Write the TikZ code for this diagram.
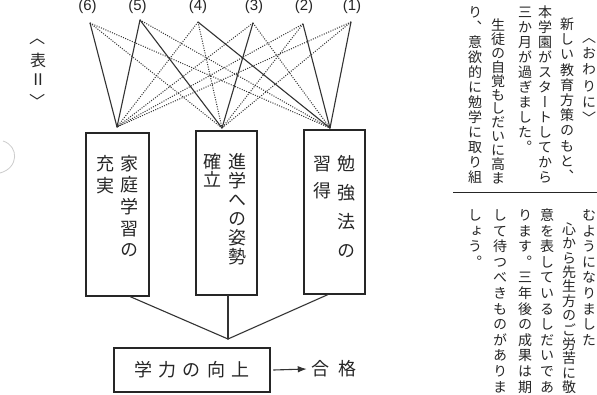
\documentclass[tikz,border=0pt]{standalone}
\usepackage{fontspec}
\usetikzlibrary{arrows.meta}
\newfontfamily\jp{Noto Sans CJK JP}
\newfontfamily\jpv[RawFeature=+vert]{Noto Sans CJK JP}
\newfontfamily\labf{Liberation Sans}
\makeatletter
\newcommand\vstack[2]{\vbox{\offinterlineskip\@tfor\vch:=#2\do{\vbox to #1{\vss\hbox to 1em{\hss\vrule height .88em depth .12em width 0pt\vch\hss}\vss}}}}
\makeatother
\newcommand\vcol[6]{\node[anchor=north,inner sep=0pt,#2] (#1) at (#3,{#4-#5/2}) {\vstack{#5pt}{#6}};}
\begin{document}
\begin{tikzpicture}[x=1pt,y=-1pt,
  ln/.style={draw=black!80, line width=1.1pt, line cap=round},
  dl/.style={draw=black!80, line width=1pt, dash pattern=on 1pt off 1.4pt},
  bx/.style={draw=black!85, line width=1.1pt, inner sep=0pt},
  lab/.style={font=\labf\fontsize{15}{15}\selectfont, text=black!85, inner sep=0pt},
  rt/.style={font=\jpv\fontsize{14}{14}\selectfont, text=black!85},
  bt/.style={font=\jpv\fontsize{18}{18}\selectfont, text=black!85},
  lt/.style={font=\jp\fontsize{16}{16}\selectfont, text=black!85, inner sep=0pt}]
\useasboundingbox (0,0) rectangle (597,394);
\fill[white] (0,0) rectangle (597,394);

% scan artifact on left edge
\draw[gray!40, line width=0.8pt] (3,141) .. controls (19,146) and (19,168) .. (0,173);

% left label
\node[lt, rotate=-90] (k1) at (38,37) {〈};
\node[lt] (k2) at (38,60) {表};
\node[lt] (k3) at (38,80) {Ⅱ};
\node[lt, rotate=-90] (k4) at (38,101) {〉};

% top labels and points
\node[lab] (l6) at (87.5,7) {(6)};
\node[lab] (l5) at (137.5,7) {(5)};
\node[lab] (l4) at (198,7) {(4)};
\node[lab] (l3) at (254,7) {(3)};
\node[lab] (l2) at (304,7) {(2)};
\node[lab] (l1) at (352,7) {(1)};
\coordinate (t6) at (90,23);
\coordinate (t5) at (140,20);
\coordinate (t4) at (198,22);
\coordinate (t3) at (253,23);
\coordinate (t2) at (303,24);
\coordinate (t1) at (351,22);

% boxes
\node[bx, minimum width=63pt, minimum height=163pt] (b1) at (117.5,214.5) {};
\node[bx, minimum width=61pt, minimum height=164pt] (b2) at (226.5,213) {};
\node[bx, minimum width=61pt, minimum height=164pt] (b3) at (334.5,212) {};
\coordinate (a1) at (117,127);
\coordinate (a2) at (222,128);
\coordinate (a3) at (330,128);

% dotted links
\foreach \s/\e in {t6/a2,t6/a3,t5/a3,t4/a1,t4/a2,t3/a1,t3/a3,t2/a1,t2/a2,t1/a1,t1/a2}
  \draw[dl] (\s) -- (\e);
% solid links
\foreach \s/\e in {t6/a1,t5/a1,t5/a2,t4/a3,t3/a2,t2/a3,t1/a3}
  \draw[ln] (\s) -- (\e);

% box texts
\vcol{c1r}{bt}{129}{163}{21.7}{家庭学習の}
\vcol{c1l}{bt}{105}{163}{22}{充実}
\vcol{c2r}{bt}{237}{161}{19}{進学への姿勢}
\vcol{c2l}{bt}{212}{161}{18}{確立}
\vcol{c3r}{bt}{346}{163}{29}{勉強法の}
\vcol{c3l}{bt}{322}{163}{27}{習得}

% lower connectors
\coordinate (d1) at ([xshift=12.5pt]b1.south);
\coordinate (d2) at ([xshift=1.5pt]b2.south);
\coordinate (d3) at ([xshift=-6.5pt]b3.south);
\coordinate (m) at (228,339);
\draw[ln] (d1) -- (m);
\draw[ln] (d2) -- (m);
\draw[ln] (d3) -- (m);

% result
\node[bx, minimum width=156pt, minimum height=44pt, font=\jp\fontsize{18}{18}\selectfont, text=black!85] (r) at (192,370) {学\kern6.5pt力\kern6.5ptの\kern6.5pt向\kern6.5pt上};
\node[font=\jp\fontsize{18}{18}\selectfont, text=black!85, inner sep=0pt] (g) at (333.5,369) {合\kern9pt格};
\draw[ln, -{Latex[length=9pt,width=6.5pt]}] ([xshift=3pt]r.east) -- ([xshift=-4pt]g.west);

% right text, upper tier
\vcol{h0}{rt}{589}{37}{16.2}{〈おわりに〉}
\vcol{h1}{rt}{567}{24}{15.2}{新しい教育方策のもと、}
\vcol{h2}{rt}{545}{12}{15}{本学園がスタートしてから}
\vcol{h3}{rt}{525}{12}{15}{三か月が過ぎました。}
\vcol{h4}{rt}{498}{25.3}{13.85}{生徒の自覚もしだいに高ま}
\vcol{h5}{rt}{475}{12}{15}{り、意欲的に勉学に取り組}
\draw[black!85, line width=1pt] (453,192) -- (597,192);
% right text, lower tier
\vcol{u0}{rt}{589}{215}{15.6}{むようになりました}
\vcol{u1}{rt}{569}{228.8}{14.4}{心から先生方のご労苦に敬}
\vcol{u2}{rt}{547}{215}{15.6}{意を表しているしだいであ}
\vcol{u3}{rt}{525}{215}{15.6}{ります。三年後の成果は期}
\vcol{u4}{rt}{500}{215}{15.6}{して待つべきものがありま}
\vcol{u5}{rt}{475}{215}{15.6}{しょう。}
\end{tikzpicture}
\end{document}
